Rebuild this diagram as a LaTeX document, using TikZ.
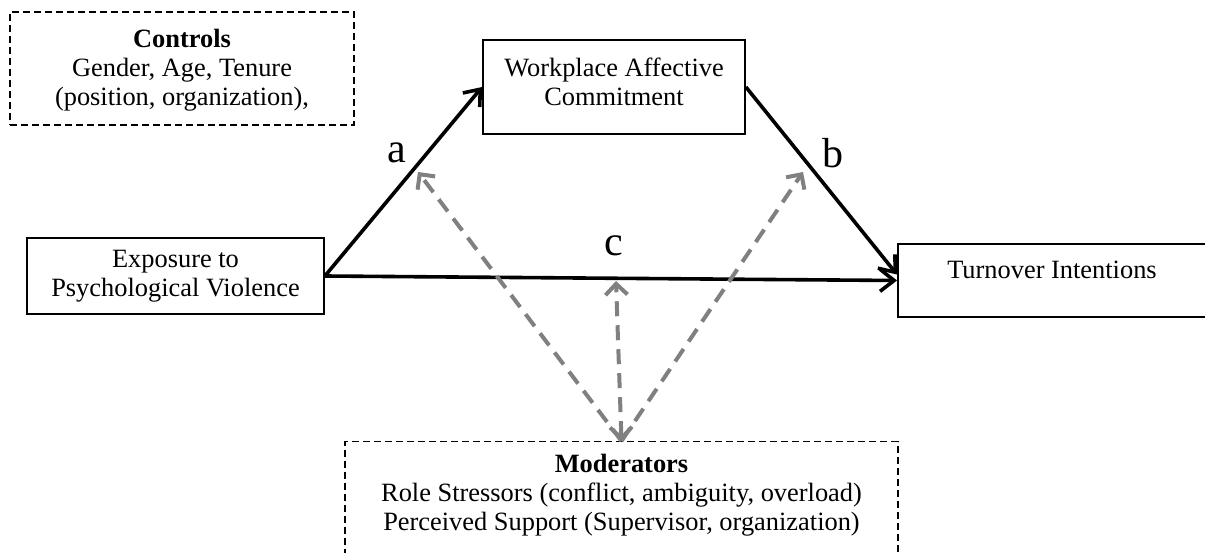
\documentclass[tikz,border=0pt]{standalone}
\usepackage{fontspec}
\setmainfont{Liberation Serif}
\usetikzlibrary{arrows.meta,calc}
\definecolor{modgray}{RGB}{128,128,128}
\begin{document}
\begin{tikzpicture}[x=1pt,y=-1pt,
  txt/.style={inner sep=0pt, align=center, font=\fontsize{26.4}{29}\selectfont},
  box/.style={txt, draw=black, line width=1.8pt},
  dbox/.style={draw=black, line width=1.4pt, dash pattern=on 7pt off 4pt, inner sep=0pt},
  mainarrow/.style={line width=3.6pt, -{Straight Barb[length=14pt,width=22pt]}},
  modarrow/.style={draw=modgray, line width=4pt, dash pattern=on 15pt off 9pt},
  pathlabel/.style={inner sep=0pt, font=\fontsize{42}{46}\selectfont}
]
\useasboundingbox (0,0) rectangle (1205,553);

% Controls
\node[dbox, minimum width=344pt, minimum height=113pt] (ctrlbox) at (182,68.5) {};
\node[txt] (ctrl) at (182,70) {\textbf{Controls}\\Gender, Age, Tenure\\(position, organization),};

% Main boxes
\node[box, minimum width=297pt, minimum height=76pt] (exp) at (175.5,276) {Exposure to\\Psychological Violence};
\node[draw=black, line width=1.8pt, inner sep=0pt, minimum width=262pt, minimum height=94pt] (wac) at (614,87) {};
\node[txt] (wactxt) at (614,82) {Workplace Affective\\Commitment};
\node[draw=black, line width=1.8pt, inner sep=0pt, minimum width=340pt, minimum height=73pt, anchor=west] (to) at (897,280.5) {};
\node[txt] (totxt) at (1052,270) {Turnover Intentions};

% Moderators
\node[dbox, minimum width=553pt, minimum height=140pt, anchor=north] (mod) at (621.5,441) {};
\node[txt] (modtxt) at (621.5,495) {\textbf{Moderators}\\Role Stressors (conflict, ambiguity, overload)\\Perceived Support (Supervisor, organization)};

% Main paths
\draw[mainarrow] (exp.east) -- (wac.west);
\draw[mainarrow] (wac.east) -- ([yshift=6pt]to.west);
\draw[mainarrow] (exp.east) -- (to.west);

% labels
\node[pathlabel] (la) at (397,153) {a};
\node[pathlabel] (lb) at (833,153) {b};
\node[pathlabel] (lc) at (614,246) {c};

% moderator arrows
\coordinate (ta) at (418,172);
\coordinate (tb) at (803,172);
\coordinate (tc) at (616,281);
\draw[modarrow, -{Straight Barb[length=11pt,width=22pt]}] (mod.north) -- (ta);
\draw[modarrow, -{Straight Barb[length=11pt,width=22pt]}] (mod.north) -- (tb);
\draw[modarrow, {Straight Barb[length=11pt,width=22pt]}-{Straight Barb[length=11pt,width=22pt]}] (mod.north) -- (tc);
\end{tikzpicture}
\end{document}
